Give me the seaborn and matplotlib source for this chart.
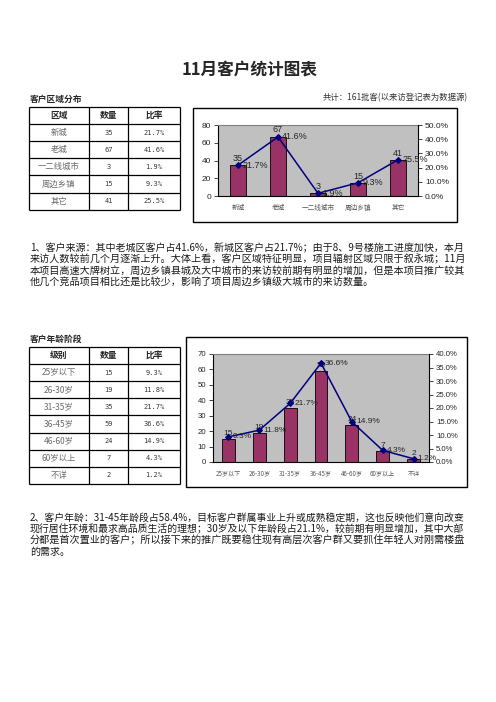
import numpy as np
import pandas as pd
import matplotlib
matplotlib.use("Agg")
import matplotlib.pyplot as plt
import seaborn as sns
from matplotlib.patches import Rectangle
from matplotlib.ticker import PercentFormatter, MultipleLocator

# ---------------- data ----------------
title = "11月客户统计图表"

region_section = "客户区域分布"
region_note = "共计：161批客(以来访登记表为数据源)"
region_header = ["区域", "数量", "比率"]
region_names = ["新城", "老城", "一二线城市", "周边乡镇", "其它"]
region_counts = [35, 67, 3, 15, 41]
region_ratios = [0.217, 0.416, 0.019, 0.093, 0.255]

age_section = "客户年龄阶段"
age_header = ["级别", "数量", "比率"]
age_names = ["25岁以下", "26-30岁", "31-35岁", "36-45岁", "46-60岁", "60岁以上", "不详"]
age_counts = [15, 19, 35, 59, 24, 7, 2]
age_ratios = [0.093, 0.118, 0.217, 0.366, 0.149, 0.043, 0.012]

para1 = [
    "1、客户来源：其中老城区客户占41.6%，新城区客户占21.7%；由于8、9号楼施工进度加快，本月",
    "来访人数较前几个月逐渐上升。大体上看，客户区域特征明显，项目辐射区域只限于叙永城；11月",
    "本项目高速大牌树立，周边乡镇县城及大中城市的来访较前期有明显的增加，但是本项目推广较其",
    "他几个竞品项目相比还是比较少，影响了项目周边乡镇级大城市的来访数量。",
]
para2 = [
    "2、客户年龄：31-45年龄段占58.4%，目标客户群属事业上升或成熟稳定期，这也反映他们意向改变",
    "现行居住环境和最求高品质生活的理想；30岁及以下年龄段占21.1%，较前期有明显增加，其中大部",
    "分都是首次置业的客户；所以接下来的推广既要稳住现有高层次客户群又要抓住年轻人对刚需楼盘",
    "的需求。",
]

# ---------------- style ----------------
sns.set_style("white")
plt.rcParams['font.family'] = ['Noto Sans CJK SC', 'DejaVu Sans']
plt.rcParams['axes.unicode_minus'] = False

BAR = "#993366"
LINE = "#000080"
PLOTBG = "#C0C0C0"
NUMFONT = "Liberation Sans"

W, H = 496, 702
fig = plt.figure(figsize=(W / 100, H / 100), dpi=100)
fig.patch.set_facecolor("white")


def frect(x0, y0, x1, y1):
    return [x0 / W, 1 - y1 / H, (x1 - x0) / W, (y1 - y0) / H]


over = fig.add_axes([0, 0, 1, 1])
over.set_xlim(0, W)
over.set_ylim(H, 0)
over.axis("off")

# title and headings
over.text(250, 70, title, ha="center", va="center", fontsize=12, fontweight="bold")
over.text(30, 99, region_section, ha="left", va="center", fontsize=6.3, fontweight="bold")
over.text(468, 98, region_note, ha="right", va="center", fontsize=6.0, color="#333333")
over.text(30, 339, age_section, ha="left", va="center", fontsize=6.3, fontweight="bold")


def draw_table(top, header, names, counts, ratios):
    cols = [29, 89, 128, 180]
    rh = 17.1
    n = len(names) + 1
    bottom = top + n * rh
    over.hlines([top + i * rh for i in range(n + 1)], cols[0], cols[-1], colors="black", lw=0.9)
    over.vlines(cols, top, bottom, colors="black", lw=0.9)
    cx = [(cols[i] + cols[i + 1]) / 2 for i in range(3)]
    for c, h in zip(cx, header):
        over.text(c, top + rh / 2, h, ha="center", va="center", fontsize=6.3, fontweight="bold")
    for i, (nm, c, r) in enumerate(zip(names, counts, ratios)):
        y = top + (i + 1.5) * rh
        over.text(cx[0], y, nm, ha="center", va="center", fontsize=6.0, color="#6a6a6a")
        over.text(cx[1], y, str(c), ha="center", va="center", fontsize=5.0,
                  color="#3a3a3a", family="DejaVu Sans Mono")
        over.text(cx[2], y, f"{r * 100:.1f}%", ha="center", va="center", fontsize=5.0,
                  color="#3a3a3a", family="DejaVu Sans Mono")


draw_table(107, region_header, region_names, region_counts, region_ratios)
draw_table(347, age_header, age_names, age_counts, age_ratios)

# chart frames
over.add_patch(Rectangle((193, 108), 264, 114, fill=True, fc="white", ec="black", lw=1))
over.add_patch(Rectangle((186, 337), 281, 150, fill=True, fc="white", ec="black", lw=1))


def draw_chart(area, names, counts, ratios, lmax, lstep, rmax, rstep, fs_tick, fs_lab, fs_cat):
    ax = fig.add_axes(frect(*area))
    df = pd.DataFrame({"cat": names, "count": counts, "ratio": ratios})
    sns.barplot(data=df, x="cat", y="count", ax=ax, color=BAR, saturation=1,
                width=0.42, edgecolor="black", linewidth=0.6)
    ax.set_facecolor(PLOTBG)
    ax.set_ylim(0, lmax)
    ax.yaxis.set_major_locator(MultipleLocator(lstep))
    ax.set_xlabel("")
    ax.set_ylabel("")
    ax.bar_label(ax.containers[0], labels=[str(c) for c in counts], padding=1.5,
                 fontsize=fs_lab, family=NUMFONT)

    ax2 = ax.twinx()
    sns.pointplot(data=df, x="cat", y="ratio", ax=ax2, color=LINE, markers="D",
                  markersize=3, linewidth=1.1, errorbar=None)
    ax2.set_ylim(0, rmax)
    ax2.yaxis.set_major_locator(MultipleLocator(rstep))
    ax2.yaxis.set_major_formatter(PercentFormatter(1.0, decimals=1))
    ax2.set_ylabel("")
    for i, r in enumerate(ratios):
        ax2.annotate(f"{r * 100:.1f}%", xy=(i, r), xytext=(3, 0), textcoords="offset points",
                     ha="left", va="center", fontsize=fs_lab, family=NUMFONT, annotation_clip=False)

    n = len(names)
    ax.set_xlim(-0.5, n - 0.5)
    ax.set_xticks(np.arange(n + 1) - 0.5, minor=True)
    ax.tick_params(axis="x", which="major", length=0, pad=5.5, labelsize=fs_cat, labelcolor="#555555")
    ax.tick_params(axis="x", which="minor", direction="in", length=3, width=0.6, color="black")
    ax.tick_params(axis="y", direction="out", length=3, width=0.6, labelsize=fs_tick,
                   pad=2, labelfontfamily=NUMFONT)
    ax2.tick_params(axis="y", direction="out", length=3, width=0.6, labelsize=fs_tick,
                    pad=2, labelfontfamily=NUMFONT)

    for s in ["left", "bottom"]:
        ax.spines[s].set_color("black")
        ax.spines[s].set_linewidth(0.8)
    ax.spines["top"].set_color("#808080")
    ax.spines["top"].set_linewidth(0.8)
    ax.spines["right"].set_visible(False)
    for s in ["left", "top", "bottom"]:
        ax2.spines[s].set_visible(False)
    ax2.spines["right"].set_color("black")
    ax2.spines["right"].set_linewidth(0.8)
    return ax, ax2


draw_chart((218, 125, 418, 196), region_names, region_counts, region_ratios,
           80, 20, 0.5, 0.1, 6.0, 6.5, 4.8)
draw_chart((213, 354, 429, 462), age_names, age_counts, age_ratios,
           70, 10, 0.4, 0.05, 5.6, 6.0, 4.4)

# paragraphs, justified to the text block width
renderer = fig.canvas.get_renderer()


def draw_para(lines, y0, dy, x0=30, x1=463, base=7.6):
    sizes = []
    texts = []
    for k, ln in enumerate(lines):
        t = over.text(x0, y0 + k * dy, ln, ha="left", va="center", fontsize=base, color="#1a1a1a")
        texts.append(t)
    for k, t in enumerate(texts[:-1]):
        w = t.get_window_extent(renderer).width
        s = base * (x1 - x0) / w
        t.set_fontsize(s)
        sizes.append(s)
    texts[-1].set_fontsize(float(np.mean(sizes)))


draw_para(para1, 248, 11.2)
draw_para(para2, 518, 11.2)

fig.savefig("out.png", dpi=100)
